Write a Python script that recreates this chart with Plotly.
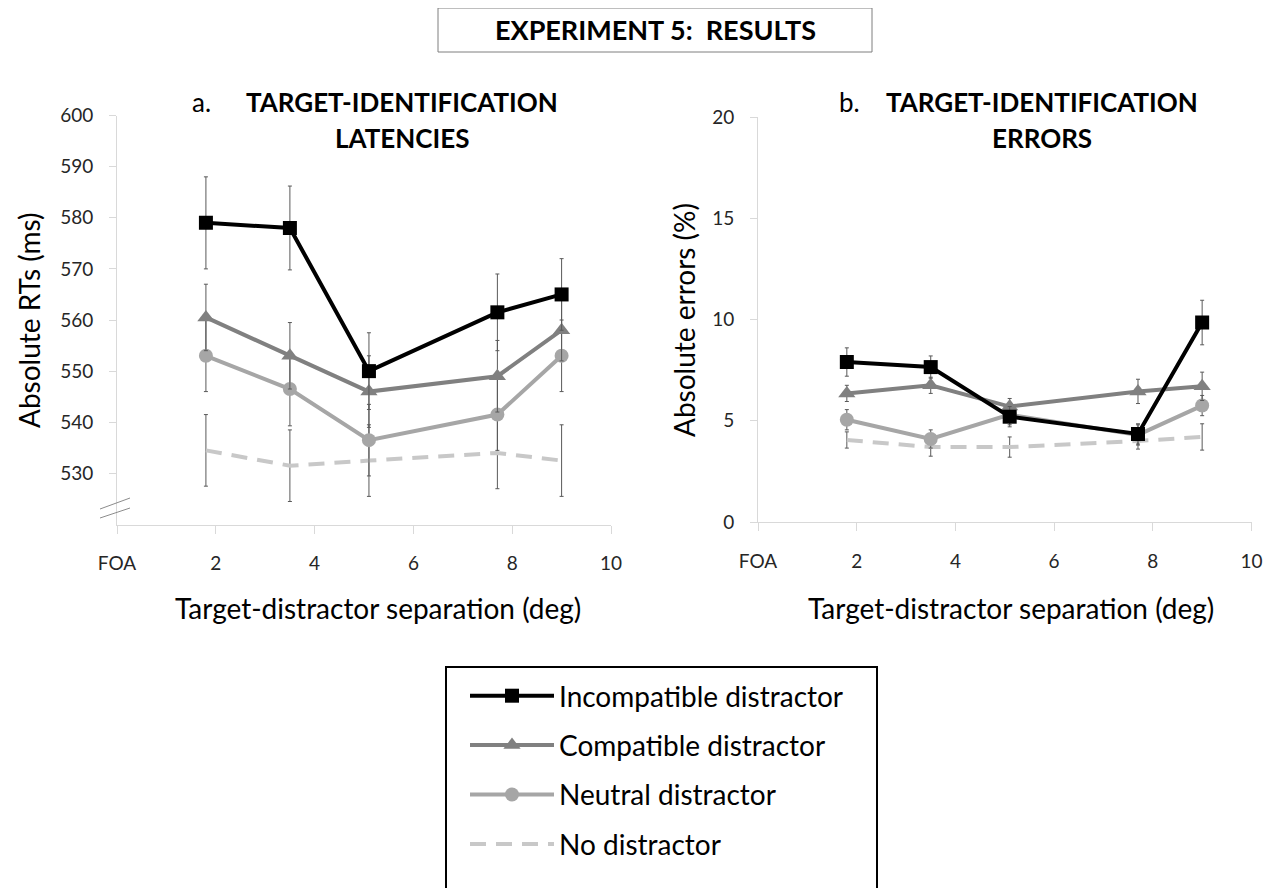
import plotly.graph_objects as go

# ---------------- data ----------------
sep = [1.8, 3.5, 5.1, 7.7, 9.0]
tick_vals = [0, 2, 4, 6, 8, 10]
tick_text = ["FOA", "2", "4", "6", "8", "10"]

series_names = ["Incompatible distractor", "Compatible distractor",
                "Neutral distractor", "No distractor"]

rt_incompatible = [579.0, 578.0, 550.0, 561.5, 565.0]
rt_compatible = [560.5, 553.0, 546.0, 549.0, 558.0]
rt_neutral = [553.0, 546.5, 536.5, 541.5, 553.0]
rt_none = [534.5, 531.5, 532.5, 534.0, 532.5]

rt_err_incompatible = [9.0, 8.2, 7.5, 7.5, 7.0]
rt_err_compatible = [6.5, 6.5, 7.0, 7.0, 6.0]
rt_err_neutral = [7.0, 7.2, 7.0, 7.0, 7.0]
rt_err_none = [7.0, 7.0, 7.0, 7.0, 7.0]

er_incompatible = [7.9, 7.65, 5.2, 4.35, 9.85]
er_compatible = [6.35, 6.75, 5.7, 6.45, 6.7]
er_neutral = [5.05, 4.1, 5.3, 4.3, 5.75]
er_none = [4.05, 3.7, 3.7, 4.0, 4.2]

er_err_incompatible = [0.7, 0.55, 0.5, 0.5, 1.1]
er_err_compatible = [0.4, 0.4, 0.4, 0.6, 0.7]
er_err_neutral = [0.5, 0.45, 0.5, 0.5, 0.5]
er_err_none = [0.4, 0.45, 0.5, 0.4, 0.65]

# ---------------- styling ----------------
FONT = "Lato"
W, H = 1278, 888
OFF = 8  # page body margin offset in the browser
styles = [
    dict(color="#000000", symbol="square", size=14, dash="solid"),
    dict(color="#808080", symbol="triangle-up", size=15, dash="solid"),
    dict(color="#a6a6a6", symbol="circle", size=14, dash="solid"),
    dict(color="#c8c8c8", symbol=None, size=0, dash="16px,10px"),
]

rt_vals = [rt_incompatible, rt_compatible, rt_neutral, rt_none]
rt_errs = [rt_err_incompatible, rt_err_compatible, rt_err_neutral, rt_err_none]
er_vals = [er_incompatible, er_compatible, er_neutral, er_none]
er_errs = [er_err_incompatible, er_err_compatible, er_err_neutral, er_err_none]

fig = go.Figure()


def add_series(vals, errs, xa, ya, show):
    for i in [3, 2, 1, 0]:
        st = styles[i]
        mode = "lines" if st["symbol"] is None else "lines+markers"
        marker = dict(color=st["color"], size=st["size"])
        if st["symbol"] is not None:
            marker["symbol"] = st["symbol"]
        fig.add_trace(go.Scatter(
            x=sep, y=vals[i], mode=mode, name=series_names[i],
            xaxis=xa, yaxis=ya, legendgroup=series_names[i],
            legendrank=i + 1, showlegend=show,
            line=dict(color=st["color"], width=4, dash=st["dash"]),
            marker=marker,
            error_y=dict(type="data", array=errs[i], visible=True,
                         color="#595959", thickness=1, width=2),
        ))


add_series(rt_vals, rt_errs, "x", "y", True)
add_series(er_vals, er_errs, "x2", "y2", False)


def px(x):
    return (x - OFF) / W


def py(y):
    return 1 - (y - OFF) / H


axis_common = dict(showgrid=False, zeroline=False, showline=True,
                   linecolor="#d9d9d9", linewidth=1, ticks="outside",
                   tickcolor="#d9d9d9", automargin=False,
                   tickfont=dict(family=FONT, size=19, color="#262626"))

fig.update_layout(
    width=W, height=H, autosize=False,
    margin=dict(l=0, r=0, t=0, b=0, pad=0),
    paper_bgcolor="white", plot_bgcolor="white",
    font=dict(family=FONT, color="#000000"),
    xaxis=dict(domain=[px(117), px(611)], range=[0, 10], tickvals=tick_vals,
               ticktext=tick_text, anchor="y", ticklen=8, ticklabelstandoff=14,
               **axis_common),
    yaxis=dict(domain=[py(524.5), py(115.5)], range=[520, 600],
               tickvals=[530, 540, 550, 560, 570, 580, 590, 600],
               anchor="x", ticklen=7, ticklabelstandoff=12, **axis_common),
    xaxis2=dict(domain=[px(758), px(1251.5)], range=[0, 10], tickvals=tick_vals,
                ticktext=tick_text, anchor="y2", ticklen=8, ticklabelstandoff=14,
                **axis_common),
    yaxis2=dict(domain=[py(522), py(117)], range=[0, 20],
                tickvals=[0, 5, 10, 15, 20],
                anchor="x2", ticklen=7, ticklabelstandoff=12, **axis_common),
    legend=dict(x=px(465), y=py(671), xanchor="left", yanchor="top",
                borderwidth=0, bgcolor="rgba(0,0,0,0)",
                font=dict(family=FONT, size=28, color="#000000"),
                tracegroupgap=10, traceorder="grouped", itemwidth=84),
    showlegend=True,
)

TFONT = dict(size=26, family=FONT, color="#000")
annotations = [
    dict(text="<b>EXPERIMENT 5:\u00a0\u00a0RESULTS</b>", x=px(655), y=py(30),
         font=dict(size=27, family=FONT, color="#000")),
    dict(text="a.", x=px(190), y=py(102), xanchor="left", font=TFONT),
    dict(text="<b>TARGET-IDENTIFICATION</b>", x=px(402), y=py(102), font=TFONT),
    dict(text="<b>LATENCIES</b>", x=px(402), y=py(138), font=TFONT),
    dict(text="b.", x=px(837), y=py(102), xanchor="left", font=TFONT),
    dict(text="<b>TARGET-IDENTIFICATION</b>", x=px(1042), y=py(102), font=TFONT),
    dict(text="<b>ERRORS</b>", x=px(1042), y=py(138), font=TFONT),
    dict(text="Absolute RTs (ms)", x=px(29), y=py(320), textangle=-90,
         font=dict(size=28, family=FONT, color="#000")),
    dict(text="Absolute errors (%)", x=px(684), y=py(320), textangle=-90,
         font=dict(size=28, family=FONT, color="#000")),
    dict(text="Target-distractor separation (deg)", x=px(378), y=py(608),
         font=dict(size=28, family=FONT, color="#000")),
    dict(text="Target-distractor separation (deg)", x=px(1011), y=py(608),
         font=dict(size=28, family=FONT, color="#000")),
]
for a in annotations:
    a.update(xref="paper", yref="paper", showarrow=False)
    a.setdefault("xanchor", "center")
    a.setdefault("yanchor", "middle")
fig.update_layout(annotations=annotations)

shapes = [
    # title box
    dict(type="rect", xref="paper", yref="paper", x0=px(438), x1=px(872),
         y0=py(52), y1=py(8), line=dict(color="#7f7f7f", width=1)),
    # legend box (runs past the bottom edge as in the source)
    dict(type="rect", xref="paper", yref="paper", x0=px(446), x1=px(877),
         y0=py(900), y1=py(667), line=dict(color="#000000", width=2)),
    # axis break marks
    dict(type="line", xref="paper", yref="paper", x0=px(100), y0=py(509),
         x1=px(130), y1=py(498), line=dict(color="#8c8c8c", width=1)),
    dict(type="line", xref="paper", yref="paper", x0=px(100), y0=py(518),
         x1=px(130), y1=py(508), line=dict(color="#8c8c8c", width=1)),
]
fig.update_layout(shapes=shapes)

fig.write_html("out.html")
